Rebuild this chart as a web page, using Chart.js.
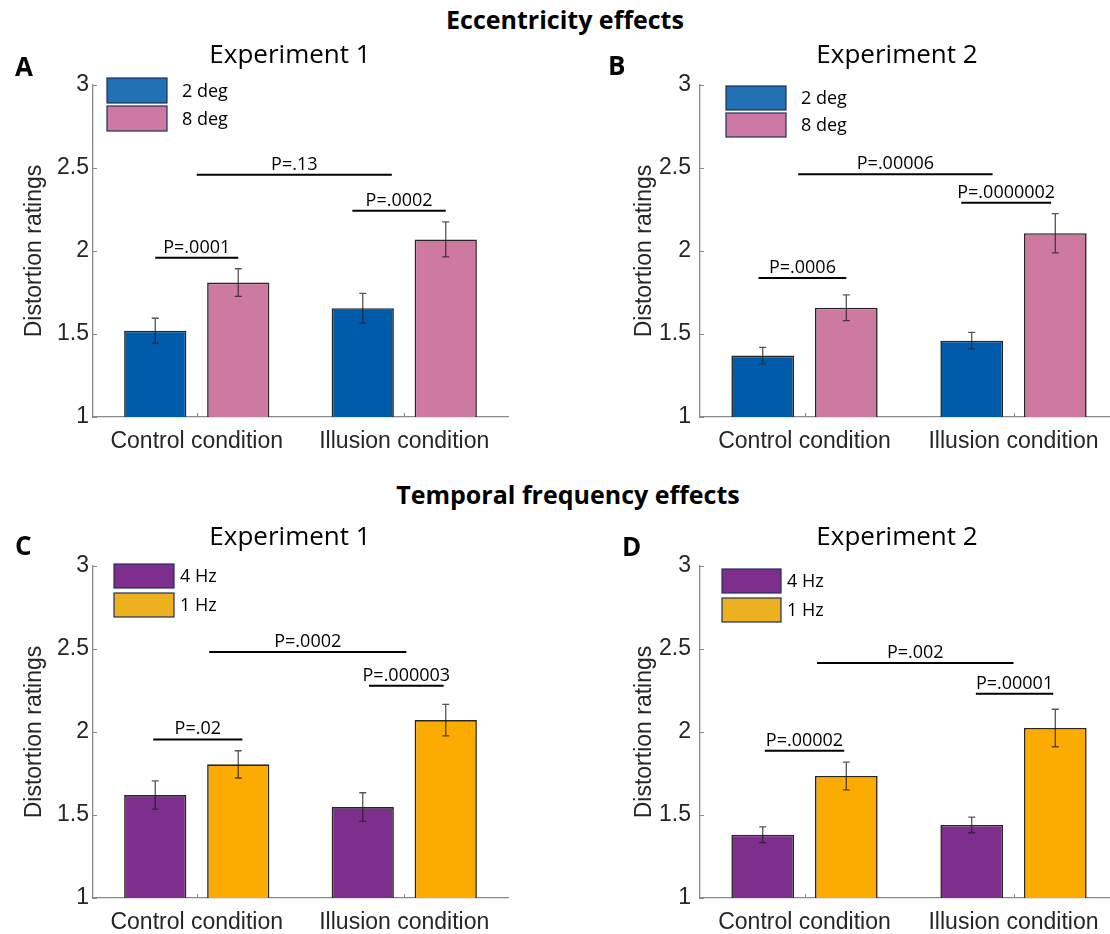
<!DOCTYPE html>
<html>
<head>
<meta charset="utf-8">
<script src="https://cdn.jsdelivr.net/npm/chart.js@4.4.1/dist/chart.umd.min.js"></script>
<style>
  html, body { margin: 0; padding: 0; background: #ffffff; overflow: hidden; width: 1110px; height: 934px; }
  .cv { position: absolute; }
  .hdr { position: absolute; font-family: "Open Sans", sans-serif; font-weight: bold; font-size: 25px; line-height: 25px; color: #000; text-align: center; white-space: nowrap; }
</style>
</head>
<body>
<div class="hdr" id="h1" style="left:265px; width:600px; top:7px;">Eccentricity effects</div>
<div class="hdr" id="h2" style="left:268px; width:600px; top:482px;">Temporal frequency effects</div>
<canvas class="cv" id="cA" width="555" height="440" style="left:0px; top:40px;"></canvas>
<canvas class="cv" id="cB" width="560" height="440" style="left:607px; top:40px;"></canvas>
<canvas class="cv" id="cC" width="555" height="440" style="left:0px; top:521px;"></canvas>
<canvas class="cv" id="cD" width="560" height="440" style="left:607px; top:521px;"></canvas>
<script>
// ---------- data ----------
const categories = ['Control condition', 'Illusion condition'];
const yTickValues = [1, 1.5, 2, 2.5, 3];
const yTickLabels = ['1', '1.5', '2', '2.5', '3'];

// A: Eccentricity, Experiment 1
const eccExp1_2deg = [1.52, 1.655];
const eccExp1_8deg = [1.81, 2.07];
const eccExp1_2deg_err = [0.075, 0.09];
const eccExp1_8deg_err = [0.083, 0.105];
const eccExp1_pLabels = ['P=.0001', 'P=.0002', 'P=.13'];
const eccExp1_pLevels = [1.96, 2.243, 2.46];

// B: Eccentricity, Experiment 2
const eccExp2_2deg = [1.37, 1.46];
const eccExp2_8deg = [1.658, 2.107];
const eccExp2_2deg_err = [0.05, 0.05];
const eccExp2_8deg_err = [0.078, 0.118];
const eccExp2_pLabels = ['P=.0006', 'P=.0000002', 'P=.00006'];
const eccExp2_pLevels = [1.837, 2.291, 2.462];

// C: Temporal frequency, Experiment 1
const tfExp1_4hz = [1.62, 1.548];
const tfExp1_1hz = [1.805, 2.072];
const tfExp1_4hz_err = [0.085, 0.086];
const tfExp1_1hz_err = [0.082, 0.095];
const tfExp1_pLabels = ['P=.02', 'P=.000003', 'P=.0002'];
const tfExp1_pLevels = [1.955, 2.279, 2.482];

// D: Temporal frequency, Experiment 2
const tfExp2_4hz = [1.381, 1.44];
const tfExp2_1hz = [1.735, 2.024];
const tfExp2_4hz_err = [0.047, 0.047];
const tfExp2_1hz_err = [0.084, 0.113];
const tfExp2_pLabels = ['P=.00002', 'P=.00001', 'P=.002'];
const tfExp2_pLevels = [1.887, 2.23, 2.416];

// ---------- styling ----------
const TICK_FONT = '"Liberation Sans", Arial, sans-serif';
const TEXT_FONT = '"Open Sans", sans-serif';
const AXIS_GRAY = '#8a8a8a';
const DARK = '#262626';

const decorPlugin = {
  id: 'decor',
  afterDatasetsDraw(chart, args, opts) {
    const ctx = chart.ctx;
    const xs = chart.scales.x, ys = chart.scales.y;
    const ca = chart.chartArea;
    ctx.save();
    // inward tick marks
    ctx.strokeStyle = AXIS_GRAY; ctx.lineWidth = 1;
    yTickValues.forEach(v => {
      const y = Math.round(ys.getPixelForValue(v)) + 0.5;
      ctx.beginPath(); ctx.moveTo(ca.left, y); ctx.lineTo(ca.left + 4, y); ctx.stroke();
    });
    categories.forEach((c, i) => {
      const x = Math.round(xs.getPixelForValue(i)) + 0.5;
      ctx.beginPath(); ctx.moveTo(x, ca.bottom); ctx.lineTo(x, ca.bottom - 4); ctx.stroke();
    });
    // error bars
    ctx.strokeStyle = 'rgba(30,30,30,0.75)'; ctx.lineWidth = 1.3;
    chart.data.datasets.forEach((ds, di) => {
      const meta = chart.getDatasetMeta(di);
      meta.data.forEach((bar, i) => {
        const v = ds.data[i], e = ds.errors[i];
        const yt = ys.getPixelForValue(v + e), yb = ys.getPixelForValue(v - e);
        const x = bar.x;
        ctx.beginPath();
        ctx.moveTo(x, yt); ctx.lineTo(x, yb);
        ctx.moveTo(x - 3.5, yt); ctx.lineTo(x + 3.5, yt);
        ctx.moveTo(x - 3.5, yb); ctx.lineTo(x + 3.5, yb);
        ctx.stroke();
      });
    });
    // significance brackets
    ctx.strokeStyle = '#000'; ctx.fillStyle = '#000'; ctx.lineWidth = 2;
    ctx.font = '18px ' + TEXT_FONT; ctx.textAlign = 'center'; ctx.textBaseline = 'alphabetic';
    opts.pLabels.forEach((lab, k) => {
      const [a, b] = opts.spans[k];
      const x1 = xs.getPixelForValue(a), x2 = xs.getPixelForValue(b);
      const y = ys.getPixelForValue(opts.pLevels[k]);
      ctx.beginPath(); ctx.moveTo(x1, y); ctx.lineTo(x2, y); ctx.stroke();
      ctx.fillText(lab, (x1 + x2) / 2, y - 5);
    });
    // legend
    ctx.textAlign = 'left'; ctx.textBaseline = 'middle'; ctx.font = '18px ' + TEXT_FONT;
    chart.data.datasets.forEach((ds, di) => {
      const bx = ca.left + opts.legend.dx;
      const by = ca.top + opts.legend.dy + di * opts.legend.step;
      ctx.fillStyle = opts.legend.colors[di];
      ctx.fillRect(bx, by, opts.legend.w, opts.legend.h);
      ctx.strokeStyle = '#1f2f5a'; ctx.lineWidth = 1.2;
      ctx.strokeRect(bx, by, opts.legend.w, opts.legend.h);
      ctx.fillStyle = '#000';
      ctx.fillText(ds.label, bx + opts.legend.w + opts.legend.gap, by + opts.legend.h / 2 + 1);
    });
    // title
    ctx.font = '26px ' + TEXT_FONT; ctx.textAlign = 'center'; ctx.textBaseline = 'alphabetic';
    ctx.fillText(opts.title, opts.titleX, opts.titleY);
    // panel letter
    ctx.font = 'bold 26px ' + TEXT_FONT; ctx.textAlign = 'left';
    ctx.fillText(opts.letter, opts.letterX, opts.letterY);
    ctx.restore();
  }
};

function makePanel(id, cfg) {
  const ctx = document.getElementById(id).getContext('2d');
  return new Chart(ctx, {
    type: 'bar',
    data: {
      labels: categories,
      datasets: [
        { label: cfg.names[0], data: cfg.series[0], errors: cfg.errors[0], backgroundColor: cfg.colors[0],
          borderColor: DARK, borderWidth: 1.6, categoryPercentage: 0.8, barPercentage: 0.75 },
        { label: cfg.names[1], data: cfg.series[1], errors: cfg.errors[1], backgroundColor: cfg.colors[1],
          borderColor: DARK, borderWidth: 1.6, categoryPercentage: 0.8, barPercentage: 0.75 }
      ]
    },
    options: {
      responsive: false,
      animation: false,
      layout: { padding: { left: 0, right: cfg.padRight, top: 45, bottom: 0 } },
      plugins: {
        legend: { display: false },
        tooltip: { enabled: false },
        decor: cfg.decor
      },
      scales: {
        x: {
          grid: { display: false, drawTicks: false },
          border: { color: AXIS_GRAY, width: 1.3 },
          ticks: { font: { family: TICK_FONT, size: 23 }, color: DARK, padding: 11, maxRotation: 0, autoSkip: false },
          afterFit: s => { s.height = 63; }
        },
        y: {
          min: 1, max: 3,
          afterBuildTicks: s => { s.ticks = yTickValues.map(v => ({ value: v })); },
          grid: { display: false, drawTicks: false },
          border: { color: AXIS_GRAY, width: 1.3 },
          ticks: { font: { family: TICK_FONT, size: 23 }, color: DARK, padding: cfg.yTickPad,
                   callback: v => yTickLabels[yTickValues.indexOf(v)] },
          title: { display: true, text: 'Distortion ratings', font: { family: TICK_FONT, size: 23 }, color: DARK,
                   padding: { top: cfg.yTitlePad, bottom: 0 } },
          afterFit: s => { s.width = 93; }
        }
      }
    },
    plugins: [decorPlugin]
  });
}

const BLUE = '#005bab', PINK = '#ce79a0', PURPLE = '#7e2f8e', ORANGE = '#fcab00';
const BLUE_L = '#2271b5', PINK_L = '#ce79a4', PURPLE_L = '#7e2f8e', ORANGE_L = '#edb120';

makePanel('cA', {
  names: ['2 deg', '8 deg'],
  series: [eccExp1_2deg, eccExp1_8deg],
  errors: [eccExp1_2deg_err, eccExp1_8deg_err],
  colors: [BLUE, PINK], padRight: 47, yTickPad: 4, yTitlePad: 21,
  decor: {
    pLabels: eccExp1_pLabels, pLevels: eccExp1_pLevels,
    spans: [[-0.2, 0.2], [0.75, 1.2], [0, 0.94]],
    legend: { dx: 14, dy: -7, step: 28, w: 60, h: 25, gap: 15, colors: [BLUE_L, PINK_L] },
    title: 'Experiment 1', titleX: 290, titleY: 23, letter: 'A', letterX: 15, letterY: 36
  }
});
makePanel('cB', {
  names: ['2 deg', '8 deg'],
  series: [eccExp2_2deg, eccExp2_8deg],
  errors: [eccExp2_2deg_err, eccExp2_8deg_err],
  colors: [BLUE, PINK], padRight: 49, yTickPad: 9, yTitlePad: 24,
  decor: {
    pLabels: eccExp2_pLabels, pLevels: eccExp2_pLevels,
    spans: [[-0.22, 0.2], [0.75, 1.18], [-0.03, 0.9]],
    legend: { dx: 26, dy: 1, step: 27, w: 60, h: 24, gap: 15, colors: [BLUE_L, PINK_L] },
    title: 'Experiment 2', titleX: 290, titleY: 23, letter: 'B', letterX: 1, letterY: 35
  }
});
makePanel('cC', {
  names: ['4 Hz', '1 Hz'],
  series: [tfExp1_4hz, tfExp1_1hz],
  errors: [tfExp1_4hz_err, tfExp1_1hz_err],
  colors: [PURPLE, ORANGE], padRight: 47, yTickPad: 4, yTitlePad: 21,
  decor: {
    pLabels: tfExp1_pLabels, pLevels: tfExp1_pLevels,
    spans: [[-0.21, 0.22], [0.83, 1.19], [0.06, 1.01]],
    legend: { dx: 21, dy: -2, step: 29, w: 60, h: 24, gap: 6, colors: [PURPLE_L, ORANGE_L] },
    title: 'Experiment 1', titleX: 290, titleY: 24, letter: 'C', letterX: 15, letterY: 34
  }
});
makePanel('cD', {
  names: ['4 Hz', '1 Hz'],
  series: [tfExp2_4hz, tfExp2_1hz],
  errors: [tfExp2_4hz_err, tfExp2_1hz_err],
  colors: [PURPLE, ORANGE], padRight: 49, yTickPad: 9, yTitlePad: 24,
  decor: {
    pLabels: tfExp2_pLabels, pLevels: tfExp2_pLevels,
    spans: [[-0.19, 0.19], [0.82, 1.19], [0.06, 1.0]],
    legend: { dx: 22, dy: 3, step: 29, w: 59, h: 24, gap: 6, colors: [PURPLE_L, ORANGE_L] },
    title: 'Experiment 2', titleX: 290, titleY: 24, letter: 'D', letterX: 15, letterY: 35
  }
});
</script>
</body>
</html>
